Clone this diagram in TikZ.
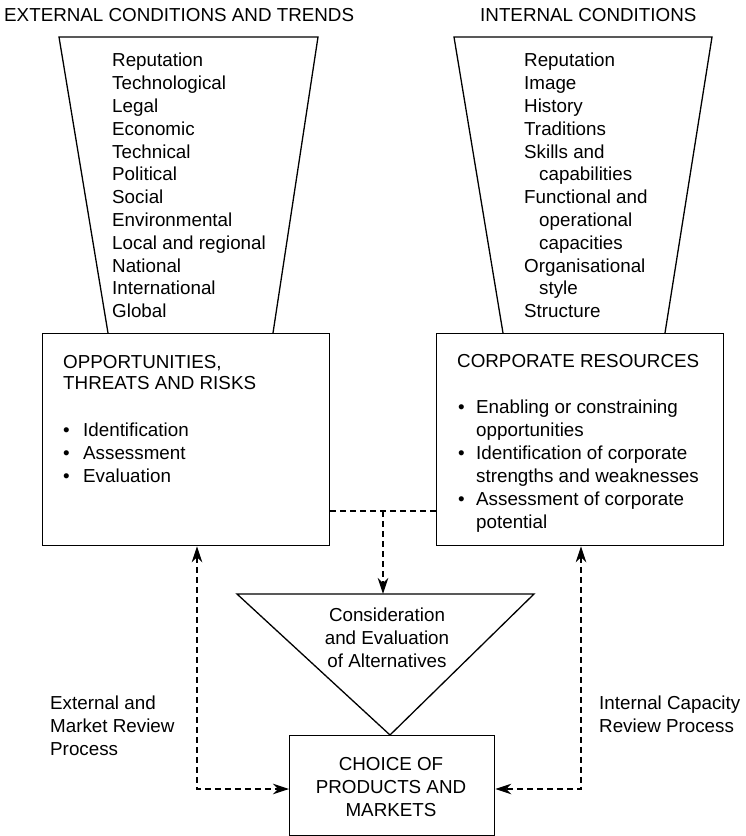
\documentclass[tikz,border=0pt]{standalone}
\usepackage{fontspec}
\setmainfont{Liberation Sans}
\usetikzlibrary{arrows.meta}
\begin{document}
\begin{tikzpicture}[x=1pt,y=-1pt,
  solid line/.style={line width=1.3pt, line join=miter},
  dashline/.style={line width=1.1pt, dash pattern=on 6pt off 4pt},
  tipend/.style={-{Stealth[length=16pt,width=10.5pt,inset=5pt]}},
  tipboth/.style={{Stealth[length=16pt,width=10.5pt,inset=5pt]}-{Stealth[length=16pt,width=10.5pt,inset=5pt]}},
  txt/.style={inner sep=0pt, font=\fontsize{18.8}{22.8}\selectfont, align=left, anchor=north west},
  ctxt/.style={inner sep=0pt, font=\fontsize{18.8}{23}\selectfont, align=center, anchor=north},
  box/.style={draw, line width=1.3pt, inner sep=0pt, anchor=north west}
]
\useasboundingbox (0,0) rectangle (745,836);

% titles
\node[txt] (t1) at (4,8) {EXTERNAL CONDITIONS AND TRENDS};
\node[txt] (t2) at (480,8) {INTERNAL CONDITIONS};

% funnels
\coordinate (fa1) at (59,37); \coordinate (fa2) at (318,37);
\coordinate (fa3) at (273,333); \coordinate (fa4) at (108,333);
\draw[solid line] (fa4) -- (fa1) -- (fa2) -- (fa3);
\coordinate (fb1) at (454,37); \coordinate (fb2) at (712,37);
\coordinate (fb3) at (665,333); \coordinate (fb4) at (503,333);
\draw[solid line] (fb4) -- (fb1) -- (fb2) -- (fb3);

\node[txt] (extlist) at (112,53) {Reputation\\Technological\\Legal\\Economic\\Technical\\Political\\Social\\Environmental\\Local and regional\\National\\International\\Global};
\node[txt] (intlist) at (524,53) {Reputation\\Image\\History\\Traditions\\Skills and\\\hspace*{15pt}capabilities\\Functional and\\\hspace*{15pt}operational\\\hspace*{15pt}capacities\\Organisational\\\hspace*{15pt}style\\Structure};

% boxes
\node[box, minimum width=287pt, minimum height=212pt] (lb) at (42,333) {};
\node[box, minimum width=287pt, minimum height=212pt] (rb) at (436,333) {};
\node[box, minimum width=205pt, minimum height=100pt] (cb) at (289,735) {};

\node[txt, font=\fontsize{18.8}{21.5}\selectfont] (lbt) at (63,355) {OPPORTUNITIES,\\THREATS AND RISKS};
\node[txt] (lbl) at (63,423) {\makebox[20pt][l]{•}Identification\\\makebox[20pt][l]{•}Assessment\\\makebox[20pt][l]{•}Evaluation};

\node[txt] (rbt) at (457,354) {CORPORATE RESOURCES};
\node[txt, font=\fontsize{18.8}{23}\selectfont] (rbl) at (458,400) {\makebox[18pt][l]{•}Enabling or constraining\\\hspace*{18pt}opportunities\\\makebox[18pt][l]{•}Identification of corporate\\\hspace*{18pt}strengths and weaknesses\\\makebox[18pt][l]{•}Assessment of corporate\\\hspace*{18pt}potential};

% triangle
\coordinate (ta) at (237,594); \coordinate (tb) at (534,594); \coordinate (tc) at (390,735);
\draw[solid line] (ta) -- (tb) -- (tc) -- cycle;
\node[ctxt] (tt) at (387,608) {Consideration\\and Evaluation\\of Alternatives};

\node[ctxt] (cbt) at (391,757) {CHOICE OF\\PRODUCTS AND\\MARKETS};

% side labels
\node[txt] (ll) at (50,696) {External and\\Market Review\\Process};
\node[txt] (rl) at (599,696) {Internal Capacity\\Review Process};

% dashed connectors
\coordinate (mid) at (383,511);
\coordinate (ttop) at (383,594);
\draw[dashline] (lb.east |- mid) -- (rb.west |- mid);
\draw[dashline, tipend] (mid) -- (ttop);

\coordinate (lc) at (197,789);
\coordinate (rc) at (581,789);
\draw[dashline, tipboth] (lb.south -| lc) -- (lc) -- (cb.west |- lc);
\draw[dashline, tipboth] (rb.south -| rc) -- (rc) -- (cb.east |- rc);
\end{tikzpicture}
\end{document}
